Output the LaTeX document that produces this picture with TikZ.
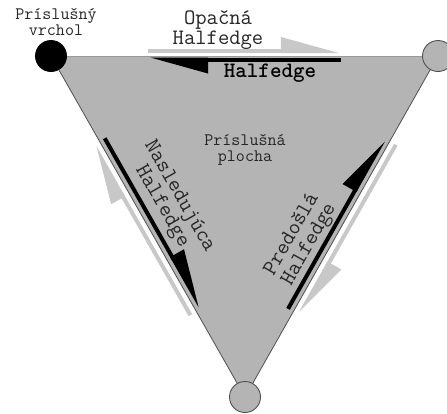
\documentclass[tikz,border=0pt]{standalone}
\usepackage{fontspec}
\usetikzlibrary{arrows.meta,calc}
\definecolor{facegray}{RGB}{180,180,180}
\definecolor{edgegray}{RGB}{80,80,80}
\definecolor{twingray}{RGB}{200,200,200}
\tikzset{
    vertex/.style={circle, draw=edgegray, line width=0.9pt, fill=facegray, minimum size=31pt, inner sep=0},
    startvertex/.style={vertex, draw=black, fill=black},
    facefill/.style={fill=facegray},
    meshedge/.style={draw=edgegray, line width=0.8pt},
    topedge/.style={draw=gray!80, line width=0.8pt},
    halfedge/.style={draw=black, line width=4pt, -{Triangle[harpoon, length=51pt, width=27pt]}},
    twin/.style={halfedge, draw=twingray},
    smalltext/.style={font=\ttfamily\fontsize{17.5}{16}\selectfont, align=center, text=black!85},
    bigtext/.style={font=\ttfamily\fontsize{22}{20}\selectfont, align=center, text=black!85},
}
\begin{document}
\begin{tikzpicture}[x=1pt, y=-1pt]
    \useasboundingbox (0,0) rectangle (447,413);
    \coordinate (a) at (51,56);
    \coordinate (b) at (438,56);
    \coordinate (c) at (245,397);

    % face
    \fill[facefill] (a) -- (b) -- (c) -- cycle;
    \draw[meshedge] (b) -- (c) -- (a);
    \draw[topedge] (a) -- (b);

    % halfedges (inside) and their twins (outside)
    \foreach \p/\q/\din/\dout in {b/a/3.5/5, a/c/6/7, c/b/6/7} {
        \draw[halfedge] ($(\p)!0.25!(\q)!\din pt!90:(\q)$) -- ($(\p)!0.745!(\q)!\din pt!-90:(\p)$);
        \draw[twin] ($(\q)!0.25!(\p)!\dout pt!90:(\p)$) -- ($(\q)!0.745!(\p)!\dout pt!-90:(\q)$);
    }

    % vertices
    \node[startvertex] (va) at (a) {};
    \node[vertex] (vb) at (b) {};
    \node[vertex] (vc) at (c) {};

    % labels
    \node[smalltext] (vtxlabel) at (56,22) {Príslušný\\vrchol};
    \node[bigtext] (twinlabel) at (218,30) {Opačná\\Halfedge};
    \node[bigtext, font=\ttfamily\bfseries\fontsize{22}{20}\selectfont, text=black] (helabel) at (270,73) {Halfedge};
    \node[smalltext] (facelabel) at (245,150) {Príslušná\\plocha};
    \node[bigtext, rotate=-60.3] (nextlabel) at (170.5,201.5) {Nasledujúca\\Halfedge};
    \node[bigtext, rotate=60.4] (prevlabel) at (300.8,239.5) {Predošlá\\Halfedge};
\end{tikzpicture}
\end{document}
